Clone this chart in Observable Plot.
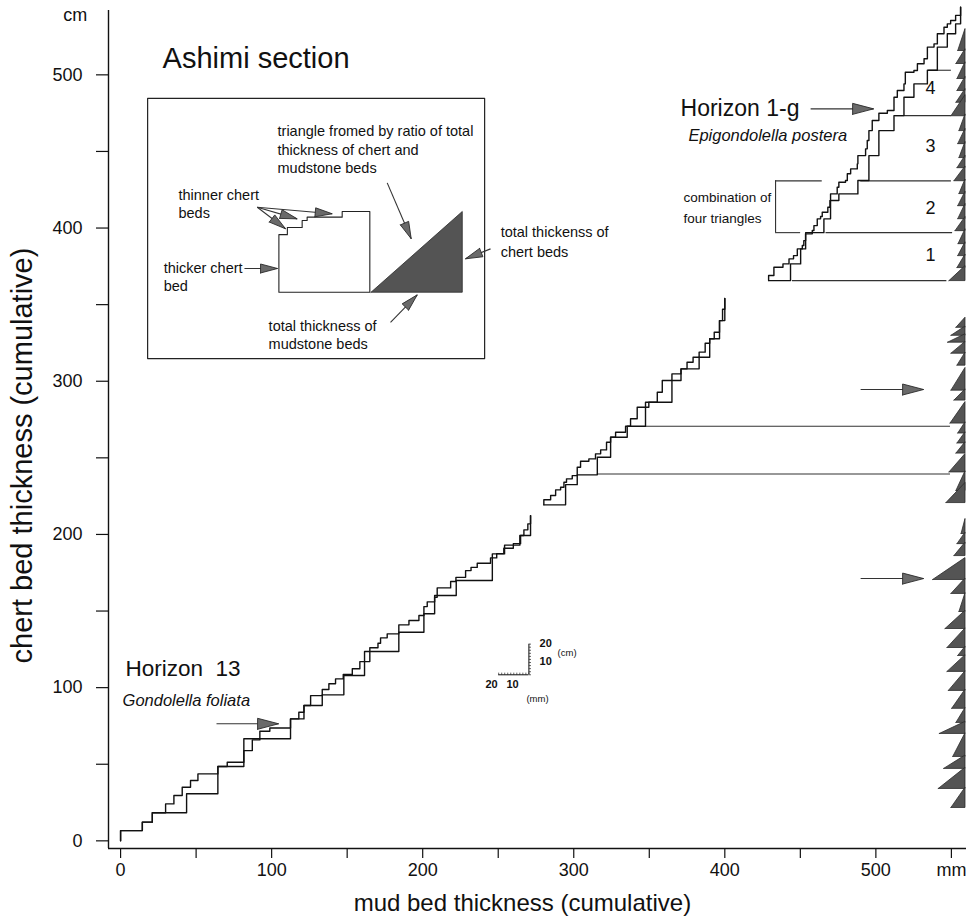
<!DOCTYPE html>
<html><head><meta charset="utf-8">
<script src="https://cdn.jsdelivr.net/npm/d3@7"></script>
<script src="https://cdn.jsdelivr.net/npm/@observablehq/plot@0.6"></script>
<style>html,body{margin:0;padding:0;background:#fff} svg{display:block}</style>
</head><body><div id="chart"></div>
<script>
// ---------- DATA (mud bed thickness mm, chert bed thickness cm; cumulative) ----------
// step lines: each point = [mud position, chert level reached at that position]
const seg1Fine = [[0,0],[0,6.7],[14.4,12.2],[21,18.3],[29.8,24.1],[35.3,29.6],[40.8,35],[46.3,39.4],[51.2,43.7],[64.4,48.5],[70.6,51.3],[81.6,58.9],[87.2,65.9],[92.2,71.5],[98.8,73.7],[112.5,79.6],[118,83.9],[121.4,88.3],[125.8,94.8],[133.5,98.8],[137.9,102.5],[142.3,105.7],[147.4,108.6],[153.4,112.3],[158.4,117],[165,126],[170.4,129],[172.1,132.5],[176.5,135.1],[184.2,141],[190.9,143.8],[197.5,147.1],[200.8,152.9],[203,156],[207.9,159],[209.6,165.1],[218.5,169.3],[222,172],[228.4,176.4],[232,178.5],[236.1,181.2],[244.9,184.7],[249,187.5],[253.7,191],[260,194],[264.8,199.3],[267,203],[269.6,206.9],[271.4,212.3]];
const seg1Coarse = [[0,0],[0,6.7],[14.4,12.2],[21,18.3],[43.7,30.7],[64.4,48.5],[81.6,66.6],[112.5,79.6],[121.4,88.3],[133.5,95.3],[147.8,107.9],[161.5,123.6],[184.2,136.2],[200.8,148.2],[207.9,160.1],[222.2,169.9],[246.1,187.3],[254.2,193],[264.3,199.3],[271.4,212.3]];
const seg2Fine = [[280.2,219.3],[280.2,222.6],[284.7,225.4],[288,229.1],[291.3,230.8],[293.5,234.1],[295.2,236.3],[299,238.4],[302.3,243.9],[304.5,247.8],[310,249.3],[314.4,252.6],[317.8,255.2],[321.7,260.2],[324.4,263.4],[327.7,266.7],[334.3,270.6],[337.6,275.5],[342,283],[349.7,286.3],[355.3,292.8],[358.6,300.5],[365,304.8],[371,308.1],[375,312.4],[379,315.7],[383,319],[387,324.8],[390,327.7],[393,332],[396.5,339.6],[398.5,347],[400,354]];
const seg2Coarse = [[280.2,219.3],[294.6,232.5],[302.3,238.9],[315.6,250.4],[324.4,263.4],[335.4,270.6],[347.5,286.3],[365,300.5],[371,308.1],[383,315.7],[390,327.7],[396.5,339.6],[400,354]];
const seg3Fine = [[429,365.7],[429,369],[432.5,374.4],[438.5,376.6],[442.5,379.9],[445.5,382],[448,386.4],[451.3,388.6],[452.3,391.8],[453.5,396.2],[457.9,398.4],[459,401.6],[461.2,406],[463.4,407.5],[464.5,410.3],[468.2,413.6],[469.6,418],[470,422.3],[474.4,426.6],[475.5,429.9],[479.9,431],[481.1,435.4],[483.3,438.6],[487.7,441.9],[488.1,447.3],[493.2,451.7],[494.3,457.1],[495.4,463.6],[497.6,470.2],[502,474.9],[507.6,476.7],[512,485.4],[514.2,489.8],[518.6,494.1],[519.5,501.7],[525.2,502.8],[527.5,507.2],[531.9,510.5],[534.1,518.1],[538.5,520.2],[540.7,526.8],[545.1,531.1],[547.3,533.3],[549.5,535.5],[552.8,538.8],[556.1,544.1]];
const seg3Coarse = [[429,365.7],[443.5,376.6],[450.2,386.4],[453.5,397],[465.6,406],[470,418],[475.5,422.3],[488.1,431],[495.4,447.3],[502,463.6],[512,473.4],[518.6,485.4],[525.2,494.1],[534.1,503],[540.7,518.1],[547.3,526.8],[552.8,533.3],[556.1,544.1]];

// horizontal level lines carried to the triangle column [chert cm, from mm, to mm]
const levelY  = [239.5, 270.6, 365.7, 397, 430.8, 473.4, 503];
const levelX1 = [315.6, 347.5, 444.8, 467, 490, 513, 535];
const levelX2 = [549.4, 549.4, 547, 550.8, 550, 550, 550];

// ratio triangles (base cm, top cm, mud width mm), right edge at triRight
const triRight = 559;
const triBase  = [515.9,507.4,497.6,489.8,482.1,473.3,463.6,455.1,446,439.4,430.9,422.5,414.6,406.1,398.3,389.8,382,374.2,365.7, 335.2,330,325.5,318.3,310.5,294.2,287.7,272.7,266.2,259.7,253.1,240.8,228.7,220.8, 200.6,194,186.2,170.6,161.5,149.7,138.6,126.2,121,110.6,98.2,86.5,77.3,70.1,55.1,47.3,34.2,21.8];
const triTop   = [530.2,517,508.5,499,491,487,474.5,465,456.5,447.5,440.5,432,424,416,407.5,399.5,391,383,375.5, 341.8,336,331,326,319,309,295,286.7,273.5,267,260.5,252.8,241.5,233.9, 210.4,201.5,195,184.9,171.5,162,150.5,139,127,121.5,111,99,87,78,70.5,56,48,35];
const triWidth = [4.8,6,5.3,5.3,6,9.3,4,4.8,4,5.3,7.3,4,4.8,4.8,6.6,4.6,4.8,5.3,10.6, 6,9.3,11.5,9.3,5.3,9.3,7.3,9.9,4.8,5.3,6,10.6,6,12.6, 2.6,5.3,7.3,21.4,9.3,4,13.2,11.9,4.8,11.9,11,8.8,6,17,8.1,14.1,17.7,9.3];

// axis ticks
const xTicks = [0,50,100,150,200,250,300,350,400,450,500,550];
const xTickLabels = ["0","","100","","200","","300","","400","","500","mm"];
const yTicks = [0,50,100,150,200,250,300,350,400,450,500];
const yTickLabels = ["0","","100","","200","","300","","400","","500"];

// ---------- ANNOTATION LAYOUT (data units) ----------
const X = d3.scaleLinear([-8, 560], [108, 966]);
const Y = d3.scaleLinear([-5, 542], [848, 10]);
const font = "Liberation Sans, Arial, Helvetica, sans-serif";

const lines = [];
[["s1f",seg1Fine],["s1c",seg1Coarse],["s2f",seg2Fine],["s2c",seg2Coarse],["s3f",seg3Fine],["s3c",seg3Coarse]]
  .forEach(([id, pts]) => pts.forEach(([x,y]) => lines.push({id, x, y})));

const tris = [];
triBase.forEach((b,i) => {
  const w = triWidth[i], t = triTop[i];
  [[triRight-w,b],[triRight,b],[triRight,t],[triRight-w,b]].forEach(([x,y]) => tris.push({id:i, x, y}));
});
const levels = levelY.map((y,i) => ({y, x1: levelX1[i], x2: levelX2[i]}));

function arrowHead(a, len, half) {
  const tx = X(a.x2), ty = Y(a.y2), fx = X(a.x1), fy = Y(a.y1);
  const d = Math.hypot(tx-fx, ty-fy), ux = (tx-fx)/d, uy = (ty-fy)/d;
  const bx = tx-ux*len, by = ty-uy*len, px = -uy*half, py = ux*half;
  return [[bx+px,by+py],[tx,ty],[bx-px,by-py],[bx+px,by+py]].map(([u,v]) => ({x: X.invert(u), y: Y.invert(v)}));
}
const bigArrows = [
  {x1:63.5, y1:76.4, x2:104.6, y2:76.4},
  {x1:456.8, y1:477.8, x2:498.5, y2:477.8},
  {x1:489.9, y1:294.6, x2:531.6, y2:294.6},
  {x1:489.9, y1:171.2, x2:531.6, y2:171.2}
];
const smallArrows = [
  {x1:82, y1:373.6, x2:103.9, y2:373.6},
  {x1:90.5, y1:413.6, x2:109.2, y2:399.5},
  {x1:90.5, y1:413.6, x2:116.9, y2:406},
  {x1:90.5, y1:413.6, x2:140.1, y2:409.3},
  {x1:176.5, y1:429.5, x2:192.4, y2:393},
  {x1:178.7, y1:338.5, x2:196.4, y2:356.4},
  {x1:244.9, y1:386.4, x2:228.3, y2:379.9}
];
const heads = [];
bigArrows.forEach((a,i) => arrowHead(a, 21, 5.5).forEach(p => heads.push({...p, id:"b"+i})));
smallArrows.forEach((a,i) => arrowHead(a, 17, 4.5).forEach(p => heads.push({...p, id:"s"+i})));

// inset schematic
const insetBox = [{x:17.9,y:314.8},{x:241,y:314.8},{x:241,y:484.6},{x:17.9,y:484.6},{x:17.9,y:314.8}];
const insetStep = [[104.8,358.1],[104.8,395.7],[110.4,395.7],[110.4,400.4],[120.2,400.4],[120.2,404.9],[123.5,404.9],[123.5,407.1],[146.7,407.1],[146.7,410.8],[165,410.8],[165,358.1],[104.8,358.1]].map(([x,y])=>({x,y}));
const insetTri = [[165.8,358.1],[226.2,358.1],[226.2,410.8],[165.8,358.1]].map(([x,y])=>({x,y}));

// scale bar (20 mm x 20 cm)
const sbX = 270.3, sbY = 108.4;
const sbTicksV = d3.range(0, 21, 2).map(k => ({x1: sbX, x2: sbX+1.4, y1: sbY+k, y2: sbY+k}));
const sbTicksH = d3.range(0, 21, 2).map(k => ({x1: sbX-k, x2: sbX-k, y1: sbY, y2: sbY+1.4}));

const bigTexts = [
  {x:27.8, y:510.7, t:"Ashimi section", s:29},
  {x:370.7, y:478, t:"Horizon 1-g", s:23},
  {x:3.3, y:112.5, t:"Horizon\u00a0 13", s:22.5}
];
const italicTexts = [
  {x:375.9, y:460.4, t:"Epigondolella postera"},
  {x:1.3, y:91.6, t:"Gondolella foliata"}
];
const smallTexts = [
  {x:103.9, y:463, t:"triangle fromed by ratio of total"},
  {x:103.9, y:450.9, t:"thickness of chert and"},
  {x:103.9, y:438.8, t:"mudstone beds"},
  {x:38.3, y:421.1, t:"thinner chert"},
  {x:38.3, y:409.4, t:"beds"},
  {x:28.5, y:373.9, t:"thicker chert"},
  {x:28.5, y:362.1, t:"bed"},
  {x:98, y:335.7, t:"total thickness of"},
  {x:98, y:324, t:"mudstone beds"},
  {x:251.6, y:397.1, t:"total thickenss of"},
  {x:251.6, y:384, t:"chert beds"}
];
const bracketTexts = [
  {x:372.6, y:420, t:"combination of"},
  {x:372.6, y:406.3, t:"four triangles"}
];
const groupNums = [{y:491,t:"4"},{y:453.2,t:"3"},{y:412.8,t:"2"},{y:382.1,t:"1"}];

const chart = Plot.plot({
  width: 966, height: 916,
  marginLeft: 108, marginRight: 0, marginTop: 10, marginBottom: 68,
  x: {domain: [-8, 560]},
  y: {domain: [-5, 542]},
  style: {fontFamily: font, background: "#fff", color: "#111", overflow: "visible"},
  marks: [
    Plot.ruleY([-5], {stroke: "#111", strokeWidth: 1.4}),
    Plot.ruleX([-8], {stroke: "#111", strokeWidth: 1.4}),
    Plot.axisX({ticks: xTicks, tickSize: 10, tickPadding: 5, fontSize: 18, label: null,
      tickFormat: d => xTickLabels[xTicks.indexOf(d)], stroke: "#111", strokeWidth: 1.2}),
    Plot.axisY({ticks: yTicks, tickSize: 12, tickPadding: 14, fontSize: 18, label: null,
      tickFormat: d => yTickLabels[yTicks.indexOf(d)], stroke: "#111", strokeWidth: 1.2}),
    Plot.text(["mud bed thickness (cumulative)"], {x: 266, y: -40.5, fontSize: 24, fill: "#111"}),
    Plot.text(["chert bed thickness (cumulative)"], {x: -65, y: 251.5, rotate: -90, fontSize: 29, fill: "#111"}),
    Plot.text(["cm"], {x: -30, y: 539, fontSize: 18, fill: "#111"}),

    // level lines & bracket
    Plot.ruleY(levels, {y: "y", x1: "x1", x2: "x2", stroke: "#333", strokeWidth: 1.1}),
    Plot.ruleY([430.8], {x1: 433.6, x2: 464.5, stroke: "#333", strokeWidth: 1.1}),
    Plot.ruleY([397], {x1: 433.6, x2: 450.2, stroke: "#333", strokeWidth: 1.1}),
    Plot.ruleX([433.6], {y1: 397, y2: 430.8, stroke: "#333", strokeWidth: 1.1}),

    // cumulative step lines
    Plot.line(lines, {x: "x", y: "y", z: "id", curve: "step-after", stroke: "#111", strokeWidth: 1.4}),

    // ratio triangles
    Plot.line(tris, {x: "x", y: "y", z: "id", fill: "#545454", stroke: "#2a2a2a", strokeWidth: 0.8}),

    // inset
    Plot.line(insetBox, {x: "x", y: "y", stroke: "#222", strokeWidth: 1.2}),
    Plot.line(insetStep, {x: "x", y: "y", stroke: "#222", strokeWidth: 1.1}),
    Plot.line(insetTri, {x: "x", y: "y", fill: "#545454", stroke: "#2a2a2a", strokeWidth: 0.8}),

    // arrows
    Plot.link([...bigArrows, ...smallArrows], {x1: "x1", y1: "y1", x2: "x2", y2: "y2", stroke: "#333", strokeWidth: 1.1}),
    Plot.line(heads, {x: "x", y: "y", z: "id", fill: "#6a6a6a", stroke: "#2a2a2a", strokeWidth: 0.9}),

    // scale bar
    Plot.ruleX([sbX], {y1: sbY, y2: sbY+20, stroke: "#222", strokeWidth: 1.1}),
    Plot.ruleY([sbY], {x1: sbX-20, x2: sbX, stroke: "#222", strokeWidth: 1.1}),
    Plot.link([...sbTicksV, ...sbTicksH], {x1: "x1", y1: "y1", x2: "x2", y2: "y2", stroke: "#222", strokeWidth: 0.7}),
    Plot.text([{x:277.4,y:128.9,t:"20"},{x:277.4,y:117.2,t:"10"}], {x:"x", y:"y", text:"t", textAnchor:"start", fontSize: 11, fontWeight: "bold", fill:"#111"}),
    Plot.text([{x:245.6,y:102.3,t:"20"},{x:259.5,y:102.3,t:"10"}], {x:"x", y:"y", text:"t", fontSize: 11, fontWeight: "bold", fill:"#111"}),
    Plot.text([{x:289.3,y:122.6,t:"(cm)"}], {x:"x", y:"y", text:"t", textAnchor:"start", fontSize: 9.5, fill:"#111"}),
    Plot.text([{x:276,y:92.6,t:"(mm)"}], {x:"x", y:"y", text:"t", fontSize: 9.5, fill:"#111"}),

    // texts
    Plot.text(bigTexts, {x: "x", y: "y", text: "t", fontSize: d => d.s, textAnchor: "start", fill: "#111"}),
    Plot.text(italicTexts, {x: "x", y: "y", text: "t", fontSize: 16.5, fontStyle: "italic", textAnchor: "start", fill: "#111"}),
    Plot.text(smallTexts, {x: "x", y: "y", text: "t", fontSize: 14.5, textAnchor: "start", fill: "#111"}),
    Plot.text(bracketTexts, {x: "x", y: "y", text: "t", fontSize: 13.5, textAnchor: "start", fill: "#111"}),
    Plot.text(groupNums, {x: 536.2, y: "y", text: "t", fontSize: 18, fill: "#111"})
  ]
});
document.getElementById("chart").append(chart);
</script>
</body></html>
